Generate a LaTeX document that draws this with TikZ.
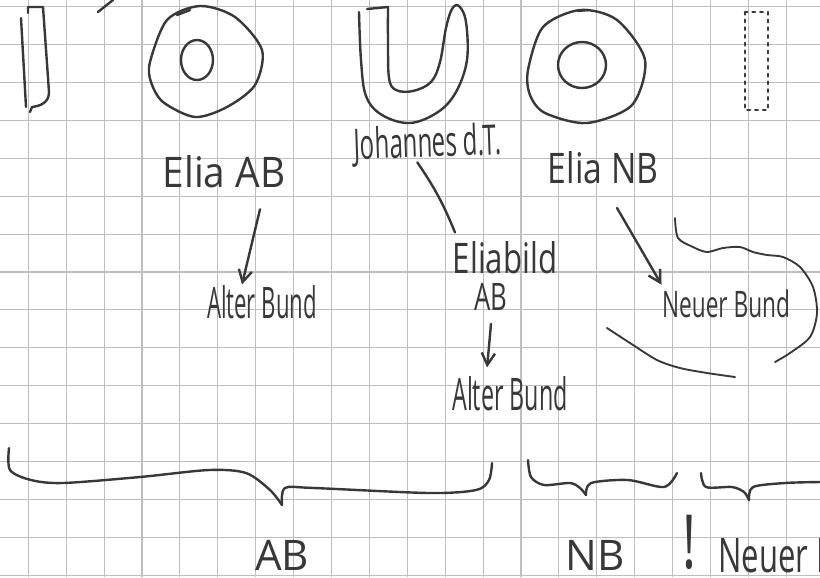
\documentclass[tikz,border=0pt]{standalone}
\usepackage{fontspec}
\setmainfont{Open Sans}
\usepackage{graphicx}
\usepackage{tikz}
\usetikzlibrary{arrows.meta}

\definecolor{ink}{HTML}{383838}
\definecolor{gridline}{HTML}{BEBEBE}
\newcommand{\hand}[3]{{\fontsize{#1}{#1}\selectfont\scalebox{#2}[1]{#3}}}

\begin{document}
\begin{tikzpicture}[
    x=0.375pt, y=-0.375pt,
    pen/.style={draw=ink, line width=0.9pt, line cap=round, line join=round},
    thinpen/.style={pen, line width=0.7pt},
    word/.style={inner sep=0pt, anchor=base, text=ink},
    arrow/.style={pen, -{Straight Barb[length=4.5pt,width=5pt]}}
]
    \useasboundingbox (0,0) rectangle (820,577);
    \clip (0,0) rectangle (820,577);
    \fill[white] (0,0) rectangle (820,577);

    % squared paper
    \foreach \k in {0,...,20}
        \draw[gridline, line width=0.4pt] ({28.3+37.9*\k},0) -- ({28.3+37.9*\k},577);
    \foreach \k in {0,...,15}
        \draw[gridline, line width=0.4pt] (0,{6.7+37.9*\k}) -- (820,{6.7+37.9*\k});

    % sketches along the top
    \draw[pen] (21,18) -- (26,107);
    \draw[pen] (28,13) -- (28,7) -- (43,7) -- (49,92) .. controls (49,103) and (40,106) .. (32,107) -- (30,112);
    \draw[pen] (98,12) -- (113,0);

    \draw[pen] plot[smooth cycle] coordinates {(150,62) (167,20) (200,6) (235,17) (262,50) (255,85) (227,107) (195,117) (163,102) (151,82)};
    \draw[pen] (197,60) ellipse [x radius=16, y radius=20];
    \draw[pen] (177,15) -- (190,10);

    \draw[pen] (367,9) -- (388,7);
    \draw[pen] plot[smooth, tension=0.6] coordinates {(359,12) (361,60) (366,96) (382,115) (410,123) (438,112) (456,92) (467,60) (466,22) (459,6) (452,9) (446,28) (440,62) (431,82) (413,91) (396,90) (389,78) (388,40) (388,7)};

    \draw[pen] plot[smooth cycle] coordinates {(528,70) (543,27) (580,10) (617,20) (645,60) (632,105) (587,123) (545,113) (530,95)};
    \draw[pen] (582,65) ellipse [x radius=24, y radius=23];
    \draw[pen] (578,11) -- (588,10);

    \draw[pen, dotted, line width=1.1pt] (745,12) rectangle (768,110);

    % names
    \node[word] (eliaAB) at (224,187) {\hand{15.8}{0.92}{Elia AB}};
    \node[word, rotate=2] (johannes) at (428,157) {\hand{15.8}{0.57}{Johannes d.T.}};
    \node[word] (eliaNB) at (603,183) {\hand{15.8}{0.8}{Elia NB}};
    \node[word] (alterL) at (262,318) {\hand{16.3}{0.51}{Alter Bund}};
    \node[word] (eliabild) at (505,273) {\hand{15.8}{0.74}{Eliabild}};
    \node[word] (abMid) at (491,310) {\hand{14.2}{0.68}{AB}};
    \node[word] (alterM) at (510,410) {\hand{16.8}{0.52}{Alter Bund}};
    \node[word] (neuer) at (726,317) {\hand{13.7}{0.62}{Neuer Bund}};

    \draw[arrow] ([xshift=13.5pt,yshift=-8pt]eliaAB.south) -- ([xshift=-7.5pt]alterL.north);
    \draw[pen] ([xshift=-4pt,yshift=-2pt]johannes.base) to[bend left=6] ([xshift=-18.75pt,yshift=3pt]eliabild.north);
    \draw[arrow] ([yshift=-5pt]abMid.south) -- ([xshift=-8.6pt,yshift=3pt]alterM.north);
    \draw[arrow] ([xshift=5.25pt,yshift=-9pt]eliaNB.south) -- ([yshift=1.5pt]neuer.north west);

    % cloud round the new covenant
    \draw[thinpen] plot[smooth] coordinates {(675,218) (678,238) (693,247) (707,252) (723,248) (740,247) (753,252) (767,255) (783,257) (800,267) (813,287) (817,313) (810,337) (790,353) (775,362)};
    \draw[thinpen] plot[smooth] coordinates {(607,328) (630,343) (657,360) (680,368) (707,373) (735,377)};

    % braces
    \draw[pen] plot[smooth, tension=0.5] coordinates {(9,448) (10,470) (31,480) (63,483) (140,477) (209,470) (246,473) (270,490) (282,505)};
    \draw[pen] plot[smooth, tension=0.5] coordinates {(282,505) (285,488) (314,488) (429,493) (476,490) (489,480) (492,463)};
    \draw[pen] plot[smooth, tension=0.5] coordinates {(528,460) (531,477) (544,485) (570,483) (580,488) (586,495)};
    \draw[pen] plot[smooth, tension=0.5] coordinates {(586,495) (591,483) (628,480) (664,487) (677,473)};
    \draw[pen] plot[smooth, tension=0.5] coordinates {(701,473) (706,487) (732,487) (744,492) (749,500)};
    \draw[pen] plot[smooth, tension=0.5] coordinates {(749,500) (753,487) (785,483) (820,482)};

    \node[word] (ab) at (282,570) {\hand{15.8}{1}{AB}};
    \node[word] (nb) at (595,570) {\hand{15.8}{1}{NB}};
    \node[word] (bang) at (689,568) {\hand{28}{0.7}{!}};
    \node[word, anchor=base west] (neuesB) at (718,572) {\hand{17.9}{0.65}{Neuer Bund}};
\end{tikzpicture}
\end{document}
